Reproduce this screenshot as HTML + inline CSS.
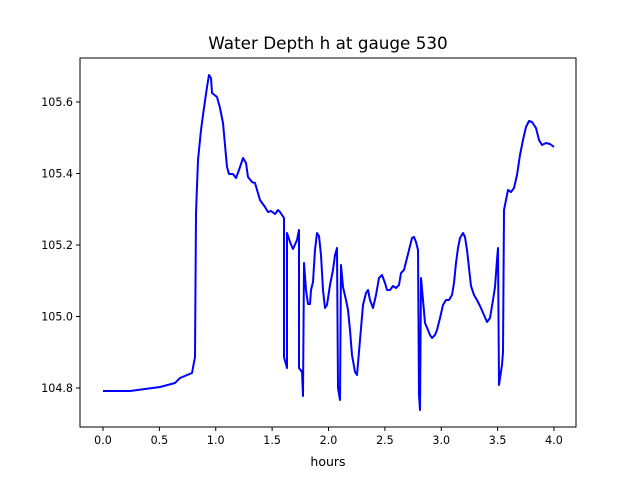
<!DOCTYPE html>
<html><head><style>body{margin:0;background:#fff}</style></head><body>
<svg width="640" height="480" xmlns="http://www.w3.org/2000/svg" font-family="DejaVu Sans, Liberation Sans, sans-serif">
<rect width="640" height="480" fill="#fff"/>
<text x="328" y="49" font-size="16.8" text-anchor="middle">Water Depth h at gauge 530</text>
<polyline fill="none" stroke="#0000ff" stroke-width="2" stroke-linejoin="round" points="103,391 130,391 160,387 175,383 180,378 192,373 195,357 196,213 198,160 201,130 203,115 207,87 209,75 211,78 212,93 217,97 220,108 223,123 227,167 229,174 233,174 236,178 239,170 243,158 246,163 248,177 252,182 255,183 260,200 265,207 268,212 271,211 275,214 278,210 280,212 284,218 284,357 287,368 287,233 290,242 293,249 297,240 299,230 299,368 302,372 303,396 304,263 306,290 308,304 310,304 311,290 313,282 315,250 317,233 319,236 321,255 323,290 325,308 327,305 330,285 333,270 335,255 337,248 338,388 340,400 341,265 343,287 346,300 348,310 350,330 352,355 355,372 357,375 360,340 363,305 366,293 368,290 370,300 373,308 376,295 379,278 382,275 385,283 387,290 390,290 393,286 396,288 399,285 401,273 404,270 406,262 409,250 412,238 414,237 416,242 418,250 419,395 420,410 421,278 423,300 425,323 428,330 430,335 432,338 435,335 437,330 440,318 443,305 446,300 449,300 452,295 454,283 456,263 458,248 460,238 463,233 465,237 467,250 469,268 471,286 474,295 477,300 480,306 484,315 487,322 490,318 493,300 495,287 497,260 498,248 499,385 502,365 503,352 504,210 506,200 508,190 511,192 514,188 517,175 520,155 523,140 526,127 529,121 532,122 536,128 539,140 542,145 546,143 550,144 554,147"/>
<rect x="80" y="58" width="496" height="369" fill="none" stroke="#000" stroke-width="1"/>
<g stroke="#000" stroke-width="1">
<line x1="103" y1="427" x2="103" y2="431"/><line x1="159.4" y1="427" x2="159.4" y2="431"/><line x1="215.75" y1="427" x2="215.75" y2="431"/><line x1="272.1" y1="427" x2="272.1" y2="431"/><line x1="328.5" y1="427" x2="328.5" y2="431"/><line x1="384.9" y1="427" x2="384.9" y2="431"/><line x1="441.25" y1="427" x2="441.25" y2="431"/><line x1="497.6" y1="427" x2="497.6" y2="431"/><line x1="554" y1="427" x2="554" y2="431"/>
<line x1="76" y1="388" x2="80" y2="388"/><line x1="76" y1="316.5" x2="80" y2="316.5"/><line x1="76" y1="245" x2="80" y2="245"/><line x1="76" y1="173.5" x2="80" y2="173.5"/><line x1="76" y1="102" x2="80" y2="102"/>
</g>
<g font-size="11.1" text-anchor="middle">
<text x="103" y="444">0.0</text><text x="159.4" y="444">0.5</text><text x="215.75" y="444">1.0</text><text x="272.1" y="444">1.5</text><text x="328.5" y="444">2.0</text><text x="384.9" y="444">2.5</text><text x="441.25" y="444">3.0</text><text x="497.6" y="444">3.5</text><text x="554" y="444">4.0</text>
<text x="328" y="466" font-size="12.5">hours</text>
</g>
<g font-size="11.1" text-anchor="end">
<text x="73" y="392">104.8</text><text x="73" y="320.5">105.0</text><text x="73" y="249">105.2</text><text x="73" y="177.5">105.4</text><text x="73" y="106">105.6</text>
</g>
</svg>
</body></html>
